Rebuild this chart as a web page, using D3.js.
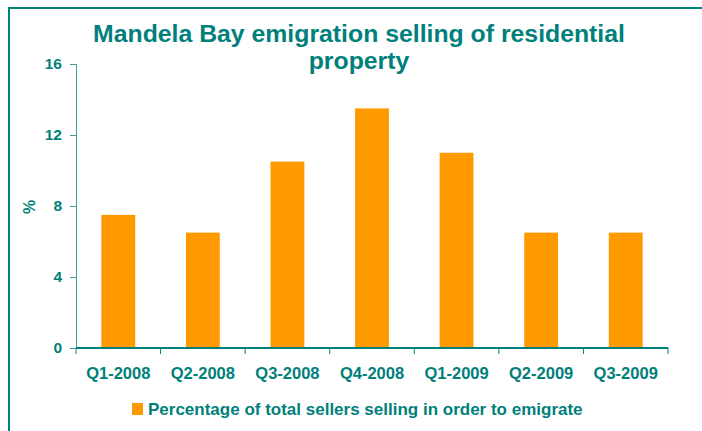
<!DOCTYPE html>
<html><head><meta charset="utf-8">
<script src="https://cdn.jsdelivr.net/npm/d3@7"></script>
<style>body{margin:0;background:#fff}svg{display:block}</style>
</head><body>
<svg id="c" width="702" height="431"></svg>
<script>
const categories = ["Q1-2008","Q2-2008","Q3-2008","Q4-2008","Q1-2009","Q2-2009","Q3-2009"];
const values = [7.5, 6.5, 10.5, 13.5, 11, 6.5, 6.5];
const yTicks = [0, 4, 8, 12, 16];
const titleLines = ["Mandela Bay emigration selling of residential", "property"];
const legendLabel = "Percentage of total sellers selling in order to emigrate";
const yLabel = "%";

(function(){
const teal = "#00807a", orange = "#ff9900";
const svg = d3.select("#c");
const font = "'Liberation Sans', Arial, sans-serif";

svg.append("rect").attr("x", 9).attr("y", 8).attr("width", 720).attr("height", 460)
  .attr("fill", "none").attr("stroke", teal).attr("stroke-width", 2);

const pl = 76, pr = 668, pt = 64, pb = 348;
const x = d3.scaleBand().domain(categories).range([pl, pr]).paddingInner(0.6).paddingOuter(0.3);
const y = d3.scaleLinear().domain([0, 16]).range([pb, pt]);

svg.selectAll("rect.bar").data(values).enter().append("rect").attr("class", "bar")
  .attr("x", (d, i) => x(categories[i])).attr("width", x.bandwidth())
  .attr("y", d => y(d)).attr("height", d => y(0) - y(d)).attr("fill", orange);

const ya = svg.append("g").attr("transform", `translate(${pl},0)`)
  .call(d3.axisLeft(y).tickValues(yTicks).tickSize(6).tickPadding(8));
ya.select(".domain").attr("stroke", "#3aa09a").attr("stroke-width", 1);
ya.selectAll(".tick line").attr("stroke", "#3aa09a");
ya.selectAll("text").attr("fill", teal).style("font", `bold 15.5px ${font}`);

const xa = svg.append("g").attr("transform", `translate(0,${pb})`);
xa.append("line").attr("x1", pl).attr("x2", pr).attr("stroke", teal).attr("stroke-width", 2);
const n = categories.length;
xa.selectAll("line.tk").data(d3.range(n + 1)).enter().append("line").attr("class","tk")
  .attr("x1", i => pl + i * (pr - pl) / n)
  .attr("x2", i => pl + i * (pr - pl) / n)
  .attr("y1", 0).attr("y2", 6).attr("stroke", teal).attr("stroke-width", 1);
xa.selectAll("text").data(categories).enter().append("text")
  .attr("x", d => x(d) + x.bandwidth() / 2).attr("y", 31).attr("text-anchor", "middle")
  .attr("fill", teal).style("font", `bold 16.5px ${font}`).text(d => d);

svg.append("text").attr("transform", "translate(35,207) rotate(-90)").attr("text-anchor", "middle")
  .attr("fill", teal).style("font", `bold 16px ${font}`).text(yLabel);

svg.selectAll("text.title").data(titleLines).enter().append("text").attr("class", "title")
  .attr("x", 359).attr("y", (d, i) => 42 + i * 27).attr("text-anchor", "middle")
  .attr("fill", teal).style("font", `bold 24.8px ${font}`).text(d => d);

const lg = svg.append("g").attr("transform", "translate(132,403)");
lg.append("rect").attr("width", 11).attr("height", 12).attr("fill", orange);
lg.append("text").attr("x", 16).attr("y", 12).attr("fill", teal)
  .style("font", `bold 17px ${font}`).text(legendLabel);
})();
</script>
</body></html>
